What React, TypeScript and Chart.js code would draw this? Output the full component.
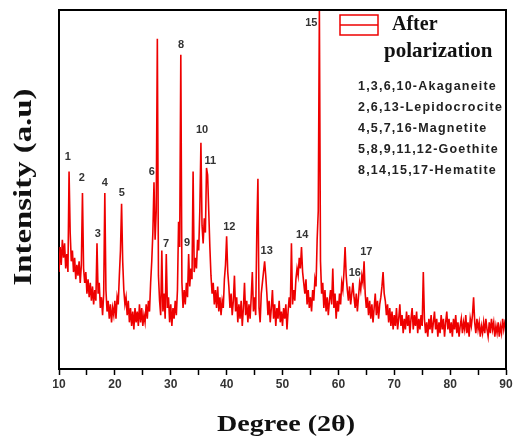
import React, { useEffect, useRef } from 'react';
import { Chart, registerables } from 'chart.js';

Chart.register(...registerables);

// Sampling grid of the diffraction pattern (degrees 2θ)
const startDegree = 10;
const stepDegree = 0.2;

// Intensity, one value every 0.2° from 10° to 90°
const intensity: number[] = [
  27, 34, 29, 36, 31, 35, 28, 32, 27, 55,
  38, 30, 33, 27, 31, 25, 29, 26, 30, 24,
  29, 49, 28, 24, 27, 21, 25, 20, 24, 19,
  23, 18, 22, 19, 35, 21, 24, 17, 20, 15,
  21, 49, 22, 16, 19, 14, 18, 13, 17, 15,
  19, 14, 20, 18, 26, 33, 46, 30, 22, 18,
  20, 15, 19, 13, 17, 12, 16, 11, 17, 13,
  16, 12, 18, 13, 17, 12, 15, 13, 18, 14,
  19, 16, 24, 30, 38, 52, 36, 44, 92, 26,
  19, 15, 33, 16, 21, 14, 32, 17, 20, 13,
  18, 12, 17, 14, 19, 15, 22, 41, 34, 87.5,
  24, 17, 22, 18, 24, 20, 32, 23, 28, 25,
  55, 27, 31, 28, 36, 33, 44, 63, 40, 35,
  42, 38, 56, 54, 44, 34, 26, 21, 24, 18,
  22, 17, 23, 16, 20, 15, 19, 17, 25, 29,
  37, 27, 23, 17, 21, 15, 19, 26, 16, 20,
  13, 18, 14, 19, 12, 17, 24, 15, 19, 13,
  18, 14, 20, 27, 16, 20, 15, 38, 53, 17,
  13, 21, 24, 27, 30, 26, 21, 15, 19, 13,
  17, 22, 14, 18, 12, 17, 14, 19, 13, 16,
  12, 17, 14, 18, 11, 16, 20, 17, 35, 18,
  22, 19, 25, 28, 26, 31, 28, 34, 27, 24,
  21, 25, 18, 22, 17, 20, 16, 22, 19, 25,
  23, 36, 44, 100, 30, 21, 24, 17, 22, 16,
  20, 15, 19, 22, 18, 28, 17, 21, 14, 19,
  16, 21, 18, 24, 22, 27, 34, 26, 22, 19,
  23, 18, 21, 24, 20, 17, 21, 16, 20, 24,
  22, 26, 24, 30, 21, 17, 20, 15, 19, 14,
  18, 13, 17, 21, 15, 19, 14, 18, 20, 23,
  27, 21, 19, 15, 18, 13, 17, 12, 16, 11,
  15, 12, 17, 11, 14, 18, 12, 15, 10, 14,
  11, 16, 12, 15, 10, 14, 17, 11, 15, 12,
  16, 10, 14, 11, 15, 12, 27, 14, 10, 13,
  9, 14, 11, 15, 10, 13, 16, 11, 14, 9,
  13, 10, 15, 11, 14, 9, 13, 16, 11, 14,
  10, 13, 9, 14, 11, 15, 10, 13, 9, 12,
  14, 10, 13, 11, 15, 10, 13, 9, 14, 12,
  15, 20, 13, 10, 14, 11, 13, 9, 12, 10,
  13, 10, 14, 11, 9, 13, 10, 14, 11, 13,
  9, 12, 10, 13, 9, 12, 10, 14, 11, 13,
  12,
];

const xTickLabels: number[] = [10, 20, 30, 40, 50, 60, 70, 80, 90];

const peakLabels: string[] = ['1', '2', '3', '4', '5', '6', '7', '8', '9', '10', '11', '12', '13', '14', '15', '16', '17'];
const peakLabelDegree: number[] = [11.56, 14.07, 16.94, 18.2, 21.25, 26.63, 29.14, 31.83, 32.9, 35.6, 37.07, 40.48, 47.17, 53.53, 55.15, 62.95, 65.01];
const peakLabelIntensity: number[] = [59.1, 53.2, 37.6, 51.8, 49.0, 54.9, 34.8, 90.3, 35.1, 66.6, 57.9, 39.6, 33.0, 37.3, 96.4, 26.8, 32.6];

const seriesName: string[] = ['After', 'polarization'];
const phaseNotes: string[] = [
  '1,3,6,10-Akaganeite',
  '2,6,13-Lepidocrocite',
  '4,5,7,16-Magnetite',
  '5,8,9,11,12-Goethite',
  '8,14,15,17-Hematite',
];
const xTitle = 'Degree (2θ)';
const yTitle = 'Intensity (a.u)';

const SERIF = '"Liberation Serif", "Times New Roman", serif';
const SANS = '"Liberation Sans", Arial, sans-serif';
const RED = 'rgb(238,0,0)';

export default function App() {
  const ref = useRef<HTMLCanvasElement>(null);

  useEffect(() => {
    document.body.style.margin = '0';
    const canvas = ref.current;
    if (!canvas) return;

    const points = intensity.map((v, i) => ({ x: +(startDegree + i * stepDegree).toFixed(1), y: v }));

    const overlay = {
      id: 'overlay',
      afterDatasetsDraw(chart: any) {
        const { ctx, scales } = chart;
        const xs = scales.x;
        const ys = scales.y;
        ctx.save();
        ctx.font = `bold 11px ${SANS}`;
        ctx.fillStyle = '#333';
        ctx.textAlign = 'center';
        ctx.textBaseline = 'middle';
        peakLabels.forEach((t, i) => {
          ctx.fillText(t, xs.getPixelForValue(peakLabelDegree[i]), ys.getPixelForValue(peakLabelIntensity[i]));
        });
        ctx.restore();
      },
      afterDraw(chart: any) {
        const { ctx, chartArea } = chart;
        const { left, right, top, bottom } = chartArea;
        ctx.save();
        // frame top/right
        ctx.strokeStyle = '#000';
        ctx.lineWidth = 2;
        ctx.beginPath();
        ctx.moveTo(left - 1, top);
        ctx.lineTo(right, top);
        ctx.lineTo(right, bottom + 1);
        ctx.stroke();

        // legend symbol
        ctx.strokeStyle = RED;
        ctx.lineWidth = 1.5;
        ctx.strokeRect(340, 15, 38, 20);
        ctx.beginPath();
        ctx.moveTo(340, 25);
        ctx.lineTo(378, 25);
        ctx.stroke();

        // legend name
        ctx.fillStyle = '#111';
        ctx.textAlign = 'left';
        ctx.textBaseline = 'middle';
        ctx.font = `bold 20px ${SERIF}`;
        ctx.fillText(seriesName[0], 392, 25);
        ctx.font = `bold 21px ${SERIF}`;
        ctx.fillText(seriesName[1], 384, 52);

        // phase notes
        ctx.font = `bold 12.5px ${SANS}`;
        ctx.fillStyle = '#222';
        const w0 = ctx.measureText(phaseNotes[0]).width;
        const spacing = Math.max(0, (139 - w0) / phaseNotes[0].length);
        (ctx as any).letterSpacing = `${spacing.toFixed(2)}px`;
        phaseNotes.forEach((t, i) => {
          ctx.fillText(t, 358, 87 + i * 21);
        });
        (ctx as any).letterSpacing = '0px';

        // x title
        ctx.fillStyle = '#111';
        ctx.font = `bold 24px ${SERIF}`;
        ctx.textAlign = 'center';
        ctx.textBaseline = 'middle';
        const wx = ctx.measureText(xTitle).width;
        ctx.save();
        ctx.translate(286, 425);
        ctx.scale(138 / wx, 1);
        ctx.fillText(xTitle, 0, 0);
        ctx.restore();

        // y title
        ctx.font = `bold 25px ${SERIF}`;
        const wy = ctx.measureText(yTitle).width;
        ctx.save();
        ctx.translate(25, 187);
        ctx.rotate(-Math.PI / 2);
        ctx.scale(197 / wy, 1);
        ctx.fillText(yTitle, 0, 0);
        ctx.restore();

        ctx.restore();
      },
    };

    const chart = new Chart(canvas, {
      type: 'line',
      data: {
        datasets: [
          {
            label: seriesName.join(' '),
            data: points,
            borderColor: RED,
            borderWidth: 1.6,
            pointRadius: 0,
            tension: 0,
            fill: false,
          },
        ],
      },
      options: {
        animation: false,
        responsive: false,
        maintainAspectRatio: false,
        layout: { padding: { top: 10, right: 9, left: 0, bottom: 0 } },
        plugins: { legend: { display: false }, tooltip: { enabled: false } },
        scales: {
          x: {
            type: 'linear',
            min: 10,
            max: 90,
            afterFit: (s: any) => { s.height = 67; },
            border: { display: true, color: '#000', width: 2 },
            grid: { display: true, drawOnChartArea: false, drawTicks: true, tickLength: 6, tickColor: '#000', tickWidth: 1.5 },
            ticks: {
              stepSize: 5,
              autoSkip: false,
              maxRotation: 0,
              padding: 2,
              color: '#333',
              font: { family: SANS, size: 12, weight: 'bold' },
              callback: (v: any) => (xTickLabels.includes(Number(v)) ? String(v) : ''),
            },
            title: { display: false },
          },
          y: {
            min: 0,
            max: 100,
            afterFit: (s: any) => { s.width = 59; },
            border: { display: true, color: '#000', width: 2 },
            grid: { display: false },
            ticks: { display: false },
            title: { display: false },
          },
        },
      },
      plugins: [overlay],
    } as any);

    return () => chart.destroy();
  }, []);

  return (
    <div style={{ width: 515, height: 436, background: '#fff' }}>
      <canvas ref={ref} width={515} height={436} style={{ display: 'block' }} />
    </div>
  );
}
